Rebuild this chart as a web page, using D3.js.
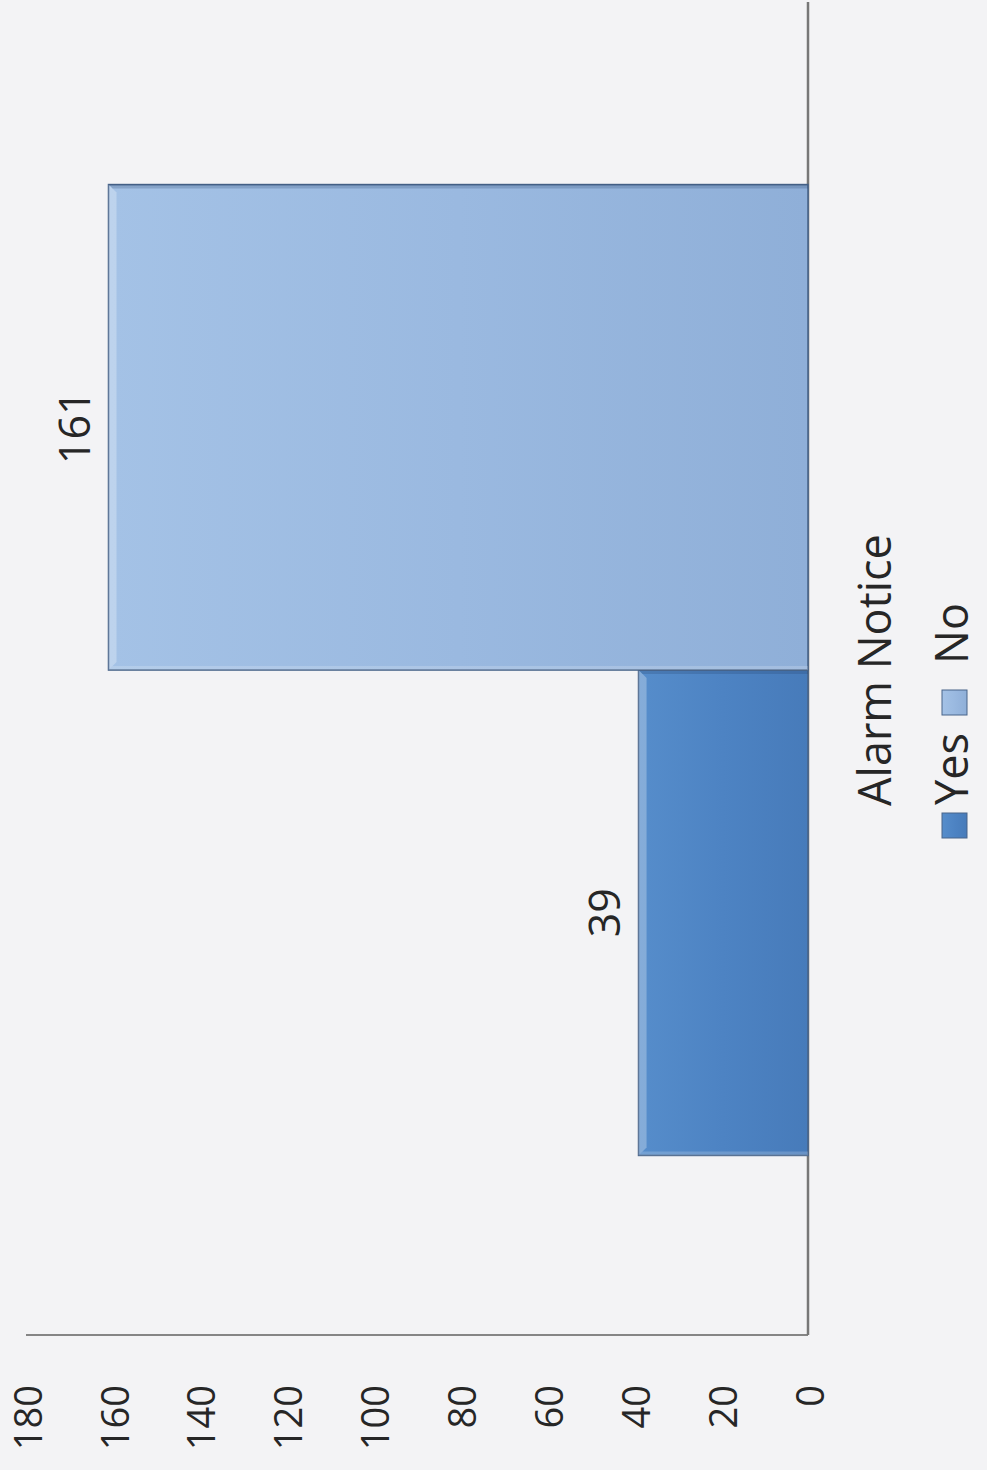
<!DOCTYPE html>
<html>
<head>
<meta charset="utf-8">
<script src="https://cdn.jsdelivr.net/npm/d3@7"></script>
<style>
  html, body { margin: 0; padding: 0; background: #f3f3f5; }
  svg { display: block; }
  text { font-family: "Open Sans", "Noto Sans", sans-serif; fill: #262626; }
</style>
</head>
<body>
<div id="chart"></div>
<script>
// ---- data ----
const categories = ["Alarm Notice"];
const series = ["Yes", "No"];
const values = [39, 161];            // Yes, No
const yTicks = [0, 20, 40, 60, 80, 100, 120, 140, 160, 180];

// ---- layout (unrotated frame: chart is rotated -90deg onto the page) ----
const W = 987, H = 1470;
const svg = d3.select("#chart").append("svg")
  .attr("width", W).attr("height", H);

svg.append("rect").attr("width", W).attr("height", H).attr("fill", "#f3f3f5");

const defs = svg.append("defs");
const gradSpecs = {
  Yes: ["#568dcb", "#4d83c3", "#477bba"],
  No:  ["#a4c2e6", "#9ab9e0", "#8fafd8"]
};
series.forEach(s => {
  const g = defs.append("linearGradient").attr("id", "grad-" + s)
    .attr("x1", 0).attr("y1", 0).attr("x2", 0).attr("y2", 1);
  g.append("stop").attr("offset", "0%").attr("stop-color", gradSpecs[s][0]);
  g.append("stop").attr("offset", "50%").attr("stop-color", gradSpecs[s][1]);
  g.append("stop").attr("offset", "100%").attr("stop-color", gradSpecs[s][2]);
});

// rotated group: local (u, v) -> page (v, H - u)
const g = svg.append("g").attr("transform", `translate(0,${H}) rotate(-90)`);

const plotLeft = 135, plotRight = 1468, plotTop = 26, plotBottom = 808;

const x0 = d3.scaleBand().domain(categories).range([plotLeft, 1465]);
const x1 = d3.scaleBand().domain(series).range([0, x0.bandwidth()])
  .paddingInner(0).paddingOuter(0.37);
const y = d3.scaleLinear().domain([0, 180]).range([plotBottom, plotTop]);

// axes lines
g.append("line")
  .attr("x1", plotLeft).attr("x2", plotLeft)
  .attr("y1", y(180)).attr("y2", y(0))
  .attr("stroke", "#858585").attr("stroke-width", 2);
g.append("line")
  .attr("x1", plotLeft).attr("x2", plotRight)
  .attr("y1", y(0)).attr("y2", y(0))
  .attr("stroke", "#777").attr("stroke-width", 2.5);

// tick labels
g.selectAll(".ytick").data(yTicks).enter().append("text")
  .attr("class", "ytick")
  .attr("x", 85)
  .attr("y", d => y(d) + 2)
  .attr("dy", "0.36em")
  .attr("text-anchor", "end")
  .style("font-size", "38px")
  .text(d => d);

// bars
const barData = series.map((s, i) => ({ series: s, value: values[i], cat: categories[0] }));
const bars = g.selectAll(".bar").data(barData).enter().append("g").attr("class", "bar");

bars.append("rect")
  .attr("x", d => x0(d.cat) + x1(d.series))
  .attr("y", d => y(d.value))
  .attr("width", x1.bandwidth())
  .attr("height", d => y(0) - y(d.value))
  .attr("fill", d => `url(#grad-${d.series})`)
  .attr("stroke", "#48648a")
  .attr("stroke-width", 1.6);

// bevel highlight on the top edge (page-left edge)
const bev = 8;
bars.append("polygon")
  .attr("points", d => {
    const bx = x0(d.cat) + x1(d.series), by = y(d.value), bw = x1.bandwidth();
    return [[bx, by], [bx + bw, by], [bx + bw - bev, by + bev], [bx + bev, by + bev]]
      .map(p => p.join(",")).join(" ");
  })
  .attr("fill", "#ffffff").attr("fill-opacity", 0.28);
bars.append("polygon")
  .attr("points", d => {
    const bx = x0(d.cat) + x1(d.series), by = y(d.value), b0 = y(0);
    return [[bx, by], [bx + 4, by + 4], [bx + 4, b0], [bx, b0]].map(p => p.join(",")).join(" ");
  })
  .attr("fill", "#ffffff").attr("fill-opacity", 0.18);
bars.append("polygon")
  .attr("points", d => {
    const bx = x0(d.cat) + x1(d.series), by = y(d.value), bw = x1.bandwidth(), b0 = y(0);
    return [[bx + bw, by], [bx + bw - 4, by + 4], [bx + bw - 4, b0], [bx + bw, b0]].map(p => p.join(",")).join(" ");
  })
  .attr("fill", "#1f3d66").attr("fill-opacity", 0.22);

// data labels
bars.append("text")
  .attr("x", d => x0(d.cat) + x1(d.series) + x1.bandwidth() / 2)
  .attr("y", d => y(d.value) - 19)
  .attr("text-anchor", "middle")
  .style("font-size", "43px")
  .text(d => d.value);

// category label
g.selectAll(".cat").data(categories).enter().append("text")
  .attr("class", "cat")
  .attr("x", d => x0(d) + x0.bandwidth() / 2)
  .attr("y", 891)
  .attr("text-anchor", "middle")
  .style("font-size", "45px")
  .text(d => d);

// legend
const legendMarkerX = [632, 755];
const legendTextX = [665, 806];
const leg = g.selectAll(".leg").data(series).enter().append("g").attr("class", "leg");
leg.append("rect")
  .attr("x", (d, i) => legendMarkerX[i]).attr("y", 942).attr("width", 25).attr("height", 25)
  .attr("fill", d => `url(#grad-${d})`)
  .attr("stroke", "#48648a").attr("stroke-width", 1);
leg.append("text")
  .attr("x", (d, i) => legendTextX[i]).attr("y", 968)
  .style("font-size", "45px")
  .text(d => d);
</script>
</body>
</html>
